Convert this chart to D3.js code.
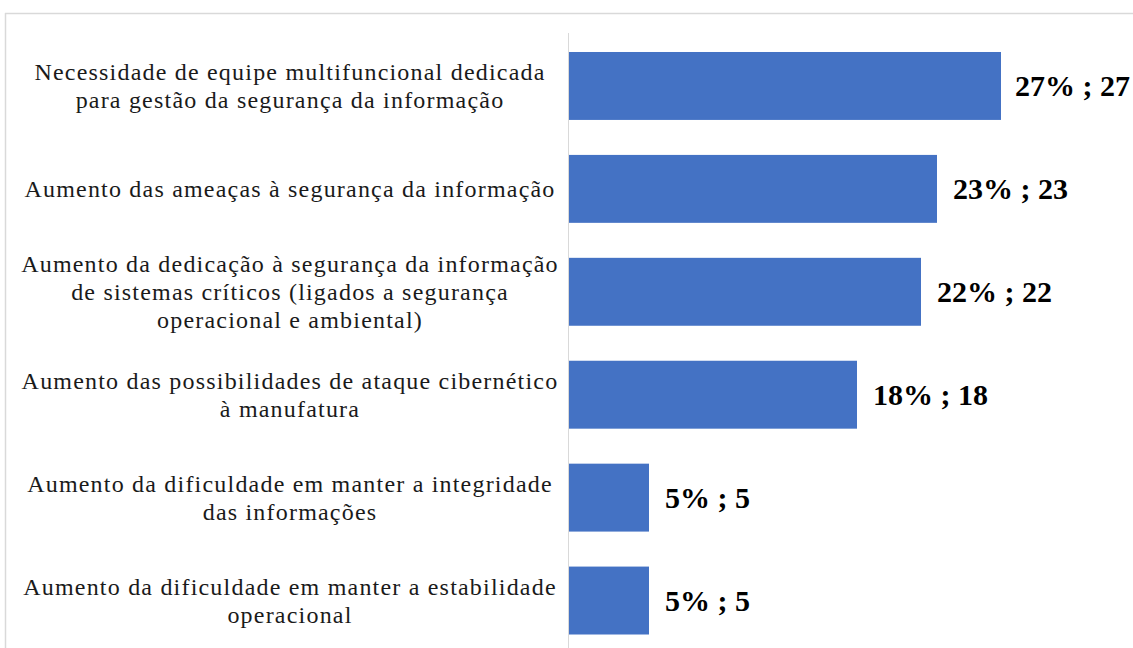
<!DOCTYPE html>
<html><head><meta charset="utf-8">
<script src="https://cdn.jsdelivr.net/npm/d3@7"></script>
<style>
html,body{margin:0;padding:0;background:#fff;overflow:hidden;}
svg{display:block;}
</style></head>
<body>
<svg id="chart" width="1133" height="648"></svg>
<script>
const categories = [
  "Necessidade de equipe multifuncional dedicada para gestão da segurança da informação",
  "Aumento das ameaças à segurança da informação",
  "Aumento da dedicação à segurança da informação de sistemas críticos (ligados a segurança operacional e ambiental)",
  "Aumento das possibilidades de ataque cibernético à manufatura",
  "Aumento da dificuldade em manter a integridade das informações",
  "Aumento da dificuldade em manter a estabilidade operacional"
];
const labelLines = [
  ["Necessidade de equipe multifuncional dedicada", "para gestão da segurança da informação"],
  ["Aumento das ameaças à segurança da informação"],
  ["Aumento da dedicação à segurança da informação", "de sistemas críticos (ligados a segurança", "operacional e ambiental)"],
  ["Aumento das possibilidades de ataque cibernético", "à manufatura"],
  ["Aumento da dificuldade em manter a integridade", "das informações"],
  ["Aumento da dificuldade em manter a estabilidade", "operacional"]
];
const percents = [27, 23, 22, 18, 5, 5];
const counts = [27, 23, 22, 18, 5, 5];

const W = 1133;
const svg = d3.select("#chart");
// frame
svg.append("line").attr("x1",5).attr("x2",W).attr("y1",13.5).attr("y2",13.5).attr("stroke","#d9d9d9").attr("stroke-width",1.5);
svg.append("line").attr("x1",5.5).attr("x2",5.5).attr("y1",13).attr("y2",648).attr("stroke","#d9d9d9").attr("stroke-width",1.5);

const x = d3.scaleLinear().domain([0, 27]).range([569, 1001]);
const y = d3.scaleBand().domain(categories).range([34.5, 652]).paddingInner(0.34).paddingOuter(0.17);

svg.append("line").attr("x1",568.5).attr("x2",568.5).attr("y1",33).attr("y2",648).attr("stroke","#d9d9d9").attr("stroke-width",1);

svg.selectAll("rect.bar").data(categories).join("rect")
  .attr("class","bar")
  .attr("x", x(0))
  .attr("y", d => y(d))
  .attr("width", (d,i) => x(percents[i]) - x(0))
  .attr("height", y.bandwidth())
  .attr("fill", "#4472C4");

svg.selectAll("text.val").data(categories).join("text")
  .attr("class","val")
  .attr("y", d => y(d) + y.bandwidth()/2)
  .attr("dy","0.35em")
  .attr("font-family","'Liberation Serif', 'Times New Roman', serif")
  .attr("font-weight","bold")
  .attr("font-size","30px")
  .attr("fill","#000")
  .text((d,i) => percents[i] + "% ; " + counts[i])
  .each(function(d,i){
    const w = this.getComputedTextLength();
    const px = Math.min(x(percents[i]) + 16, W - 3 - w);
    d3.select(this).attr("x", px);
  });

const lh = 28;
const g = svg.selectAll("text.lab").data(categories).join("text")
  .attr("class","lab")
  .attr("text-anchor","middle")
  .attr("font-family","'Liberation Serif', 'Times New Roman', serif")
  .attr("font-size","24px")
  .attr("letter-spacing","1.2px")
  .attr("fill","#1a1a1a");
g.each(function(d,i){
  const lines = labelLines[i];
  const cy = y(d) + y.bandwidth()/2;
  const t = d3.select(this);
  lines.forEach((ln, k) => {
    t.append("tspan").attr("x", 290)
      .attr("y", cy + (k - (lines.length-1)/2) * lh)
      .attr("dy","0.35em")
      .text(ln);
  });
});
</script>
</body></html>
